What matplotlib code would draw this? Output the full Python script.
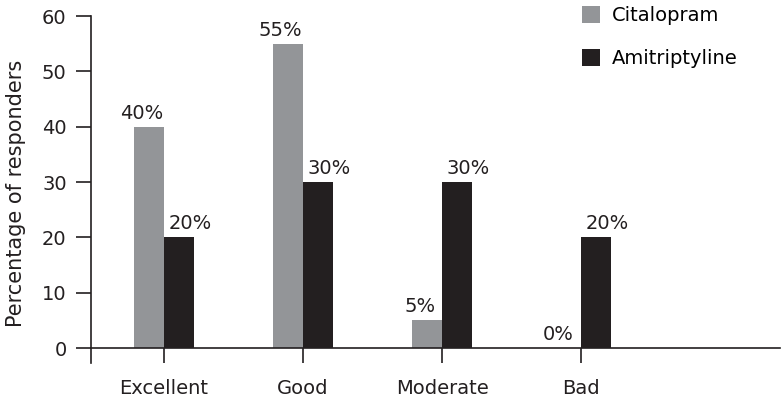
import matplotlib
matplotlib.use("Agg")
import matplotlib.pyplot as plt
import numpy as np

categories = ["Excellent", "Good", "Moderate", "Bad"]
citalopram = [40, 55, 5, 0]
amitriptyline = [20, 30, 30, 20]
series_names = ["Citalopram", "Amitriptyline"]
y_ticks = [0, 10, 20, 30, 40, 50, 60]

GRAY = "#939598"
BLACK = "#231f20"
FS = 14

plt.rcParams['font.family'] = ['DejaVu Sans']

fig = plt.figure(figsize=(7.83, 3.99), dpi=100)
ax = fig.add_axes([91/783, 1 - 363/399, (780-91)/783, (363-16)/399])

x = np.arange(len(categories))
w = 0.216
b1 = ax.bar(x - w/2, citalopram, w, color=GRAY, label=series_names[0])
b2 = ax.bar(x + w/2, amitriptyline, w, color=BLACK, label=series_names[1])

for bars, vals, dx in ((b1, citalopram, -7.5), (b2, amitriptyline, 11)):
    for r, v in zip(bars, vals):
        ax.annotate(f"{v}%", (r.get_x() + r.get_width()/2, v),
                    xytext=(dx * 0.72, 3), textcoords="offset points",
                    ha="center", va="bottom", fontsize=FS, color="#231f20")

ax.set_xlim(-0.525, 4.43)
ax.set_ylim(-2.7, 60)
ax.set_yticks(y_ticks)
ax.set_xticks(x)
ax.set_xticklabels(categories)

for s in ("top", "right"):
    ax.spines[s].set_visible(False)
ax.spines["bottom"].set_position(("data", 0))
ax.spines["bottom"].set_color(BLACK)
ax.spines["left"].set_color(BLACK)
ax.spines["bottom"].set_linewidth(1.2)
ax.spines["left"].set_linewidth(1.2)

ax.tick_params(axis="both", direction="out", length=10.5, width=1.2,
               colors=BLACK, labelsize=FS, labelcolor="#231f20")
ax.tick_params(axis="x", pad=12)
ax.tick_params(axis="y", pad=7)

ax.set_ylabel("Percentage of responders", fontsize=15, color="#231f20")
ax.yaxis.set_label_coords(-0.095, 0.49)

leg = ax.legend(loc="upper left", bbox_to_anchor=(0.687, 1.08), frameon=False,
                fontsize=FS, handlelength=0.95, handleheight=0.95,
                handletextpad=0.6, labelspacing=1.25)

fig.savefig("out.png", dpi=100)
